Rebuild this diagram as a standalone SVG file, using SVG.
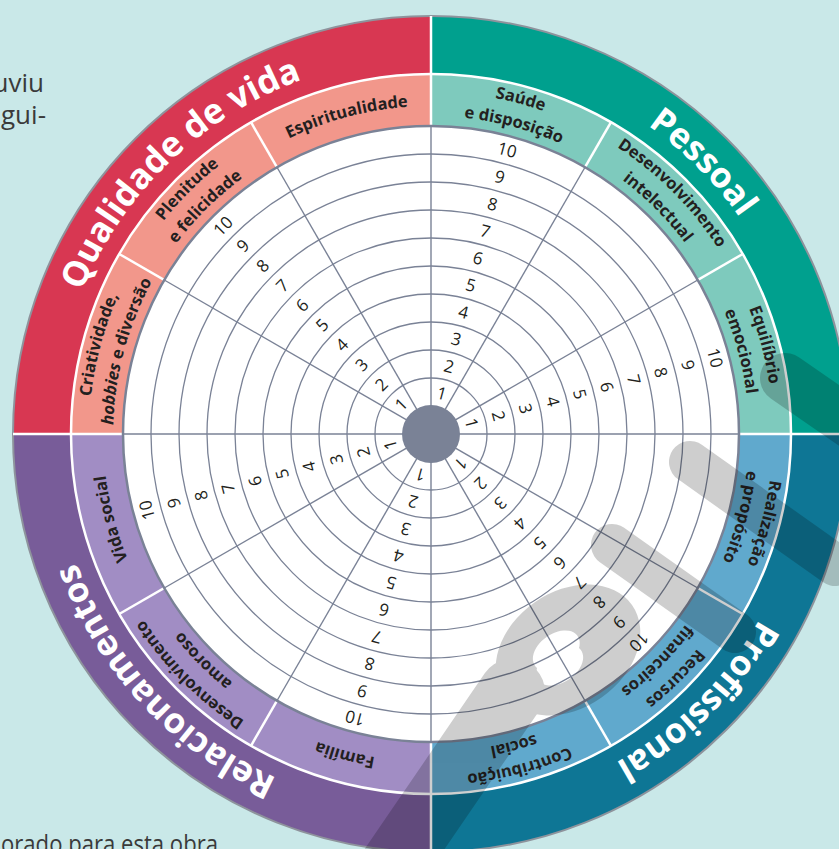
<svg xmlns="http://www.w3.org/2000/svg" xmlns:xlink="http://www.w3.org/1999/xlink" width="839" height="849" viewBox="0 0 839 849">
<style>
.body{font-family:"Open Sans","Liberation Sans",sans-serif;font-size:26px;fill:#3a3a3a}
.num{font-family:"Open Sans","Liberation Sans",sans-serif;font-size:17px;fill:#231F20;text-anchor:middle}
.sub{font-family:"Open Sans","Liberation Sans",sans-serif;font-weight:700;font-size:16.5px;fill:#231F20;text-anchor:middle}
.main{font-family:"Open Sans","Liberation Sans",sans-serif;font-weight:700;font-size:35px;fill:#ffffff;text-anchor:middle}
.gl{fill:none;stroke:#7A8296;stroke-width:1.3}
.wl{stroke:#ffffff;stroke-width:2.5}
</style>
<defs>
<path id="pMain" d="M431,57 A377,377 0 0 1 431,811 A377,377 0 0 1 431,57 A377,377 0 0 1 431,811 A377,377 0 0 1 431,57"/>
<path id="pO" d="M431,92 A342,342 0 0 1 431,776 A342,342 0 0 1 431,92 A342,342 0 0 1 431,776 A342,342 0 0 1 431,92"/>
<path id="pI" d="M431,116 A318,318 0 0 1 431,752 A318,318 0 0 1 431,116 A318,318 0 0 1 431,752 A318,318 0 0 1 431,116"/>
<path id="pS" d="M431,106 A328,328 0 0 1 431,762 A328,328 0 0 1 431,106 A328,328 0 0 1 431,762 A328,328 0 0 1 431,106"/>
</defs>
<rect width="839" height="849" fill="#C9E8E8"/>
<text class="body" x="44" y="92" text-anchor="end">uviu</text>
<text class="body" x="46" y="124" text-anchor="end">gui-</text>
<text class="body" x="1" y="853" font-size="22" textLength="217" lengthAdjust="spacingAndGlyphs">orado para esta obra</text>

<g id="quadrants">
<path d="M431,434 L13,434 A418,418 0 0 1 431,16 Z" fill="#D83752"/>
<path d="M431,434 L431,16 A418,418 0 0 1 849,434 Z" fill="#00A08E"/>
<path d="M431,434 L849,434 A418,418 0 0 1 431,852 Z" fill="#0E7695"/>
<path d="M431,434 L431,852 A418,418 0 0 1 13,434 Z" fill="#785C99"/>
<circle cx="431" cy="434" r="418" fill="none" stroke="#8E939C" stroke-width="2"/>
<line class="wl" x1="431" y1="16" x2="431" y2="852"/>
<line class="wl" x1="13" y1="434" x2="849" y2="434"/>
</g>

<g id="subring">
<path d="M431,434 L71,434 A360,360 0 0 1 431,74 Z" fill="#F2978B"/>
<path d="M431,434 L431,74 A360,360 0 0 1 791,434 Z" fill="#7ECABD"/>
<path d="M431,434 L791,434 A360,360 0 0 1 431,794 Z" fill="#60A9CD"/>
<path d="M431,434 L431,794 A360,360 0 0 1 71,434 Z" fill="#A18DC4"/>
<g class="wl">
<line x1="431" y1="74" x2="431" y2="794"/>
<line x1="611" y1="122.23" x2="251" y2="745.77"/>
<line x1="742.77" y1="254" x2="119.23" y2="614"/>
<line x1="791" y1="434" x2="71" y2="434"/>
<line x1="742.77" y1="614" x2="119.23" y2="254"/>
<line x1="611" y1="745.77" x2="251" y2="122.23"/>
</g>
<circle cx="431" cy="434" r="360" fill="none" stroke="#ffffff" stroke-width="2.5"/>
</g>

<g id="grid">
<circle cx="431" cy="434" r="308" fill="#ffffff" stroke="#7A8296" stroke-width="2.5"/>
<circle class="gl" cx="431" cy="434" r="56"/>
<circle class="gl" cx="431" cy="434" r="84"/>
<circle class="gl" cx="431" cy="434" r="112"/>
<circle class="gl" cx="431" cy="434" r="140"/>
<circle class="gl" cx="431" cy="434" r="168"/>
<circle class="gl" cx="431" cy="434" r="196"/>
<circle class="gl" cx="431" cy="434" r="224"/>
<circle class="gl" cx="431" cy="434" r="252"/>
<circle class="gl" cx="431" cy="434" r="280"/>
</g>

<g id="connectors" stroke="#7A8296" stroke-width="1.4">
<line x1="431" y1="126" x2="431" y2="742"/>
<line x1="585" y1="167.26" x2="277" y2="700.74"/>
<line x1="697.74" y1="280" x2="164.26" y2="588"/>
<line x1="739" y1="434" x2="123" y2="434"/>
<line x1="697.74" y1="588" x2="164.26" y2="280"/>
<line x1="585" y1="700.74" x2="277" y2="167.26"/>
</g>
<circle id="center" cx="431" cy="434" r="29" fill="#7A8296"/>

<g id="scales" class="num">
<g transform="rotate(15 431 434)"><text x="431" y="398">1</text><text x="431" y="370">2</text><text x="431" y="342">3</text><text x="431" y="314">4</text><text x="431" y="286">5</text><text x="431" y="258">6</text><text x="431" y="230">7</text><text x="431" y="202">8</text><text x="431" y="174">9</text><text x="431" y="146">10</text></g>
<g transform="rotate(75 431 434)"><text x="431" y="398">1</text><text x="431" y="370">2</text><text x="431" y="342">3</text><text x="431" y="314">4</text><text x="431" y="286">5</text><text x="431" y="258">6</text><text x="431" y="230">7</text><text x="431" y="202">8</text><text x="431" y="174">9</text><text x="431" y="146">10</text></g>
<g transform="rotate(135 431 434)"><text x="431" y="398">1</text><text x="431" y="370">2</text><text x="431" y="342">3</text><text x="431" y="314">4</text><text x="431" y="286">5</text><text x="431" y="258">6</text><text x="431" y="230">7</text><text x="431" y="202">8</text><text x="431" y="174">9</text><text x="431" y="146">10</text></g>
<g transform="rotate(195 431 434)"><text x="431" y="398">1</text><text x="431" y="370">2</text><text x="431" y="342">3</text><text x="431" y="314">4</text><text x="431" y="286">5</text><text x="431" y="258">6</text><text x="431" y="230">7</text><text x="431" y="202">8</text><text x="431" y="174">9</text><text x="431" y="146">10</text></g>
<g transform="rotate(255 431 434)"><text x="431" y="398">1</text><text x="431" y="370">2</text><text x="431" y="342">3</text><text x="431" y="314">4</text><text x="431" y="286">5</text><text x="431" y="258">6</text><text x="431" y="230">7</text><text x="431" y="202">8</text><text x="431" y="174">9</text><text x="431" y="146">10</text></g>
<g transform="rotate(315 431 434)"><text x="431" y="398">1</text><text x="431" y="370">2</text><text x="431" y="342">3</text><text x="431" y="314">4</text><text x="431" y="286">5</text><text x="431" y="258">6</text><text x="431" y="230">7</text><text x="431" y="202">8</text><text x="431" y="174">9</text><text x="431" y="146">10</text></g>
</g>

<g id="saude" class="sub"><text><textPath href="#pO" startOffset="89.53">Saúde</textPath></text><text><textPath href="#pI" startOffset="83.25">e disposição</textPath></text></g>
<g id="desenvolvimento-intelectual" class="sub"><text><textPath href="#pO" startOffset="268.61">Desenvolvimento</textPath></text><text><textPath href="#pI" startOffset="249.76">intelectual</textPath></text></g>
<g id="equilibrio-emocional" class="sub"><text><textPath href="#pO" startOffset="447.68">Equilíbrio</textPath></text><text><textPath href="#pI" startOffset="416.26">emocional</textPath></text></g>
<g id="realizacao" class="sub"><text><textPath href="#pO" startOffset="626.75">Realização</textPath></text><text><textPath href="#pI" startOffset="582.77">e propósito</textPath></text></g>
<g id="recursos-financeiros" class="sub"><text><textPath href="#pO" startOffset="805.82">Recursos</textPath></text><text><textPath href="#pI" startOffset="749.27">financeiros</textPath></text></g>
<g id="contribuicao-social" class="sub"><text><textPath href="#pO" startOffset="984.90">Contribuição</textPath></text><text><textPath href="#pI" startOffset="915.78">social</textPath></text></g>
<g id="familia" class="sub"><text><textPath href="#pS" startOffset="1116.31">Família</textPath></text></g>
<g id="desenvolvimento-amoroso" class="sub"><text><textPath href="#pO" startOffset="1343.04">Desenvolvimento</textPath></text><text><textPath href="#pI" startOffset="1248.79">amoroso</textPath></text></g>
<g id="vida-social" class="sub"><text><textPath href="#pS" startOffset="1459.80">Vida social</textPath></text></g>
<g id="criatividade" class="sub"><text><textPath href="#pO" startOffset="1701.18">Criatividade,</textPath></text><text><textPath href="#pI" startOffset="1581.80"><tspan font-style="italic">hobbies</tspan> e diversão</textPath></text></g>
<g id="plenitude" class="sub"><text><textPath href="#pO" startOffset="1880.26">Plenitude</textPath></text><text><textPath href="#pI" startOffset="1748.32">e felicidade</textPath></text></g>
<g id="espiritualidade" class="sub"><text><textPath href="#pS" startOffset="1975.0">Espiritualidade</textPath></text></g>

<g id="pessoal" class="main"><text><textPath href="#pMain" startOffset="296.1">Pessoal</textPath></text></g>
<g id="profissional" class="main"><text><textPath href="#pMain" startOffset="888.3">Profissional</textPath></text></g>
<g id="relacionamentos" class="main"><text><textPath href="#pMain" startOffset="1493.6">Relacionamentos</textPath></text></g>
<g id="qualidade-de-vida" class="main"><text><textPath href="#pMain" startOffset="2079.3">Qualidade de vida</textPath></text></g>

<g id="watermark" opacity="0.19">
<g fill="none" stroke="#000" stroke-linecap="round" stroke-linejoin="round">
<path d="M380,885 L512,692" stroke-width="66"/>
<path d="M612,545 L735,632" stroke-width="42"/>
<path d="M690,462 L835,565" stroke-width="42"/>
<path d="M785,378 L860,430" stroke-width="50"/>
</g>
<path fill="#000" fill-rule="evenodd" d="M632,605 A78,58 -35 1 0 504,695 A78,58 -35 1 0 632,605 Z M579,648 A26,17 -35 1 0 537,668 A26,17 -35 1 0 579,648 Z"/>
</g>
</svg>
